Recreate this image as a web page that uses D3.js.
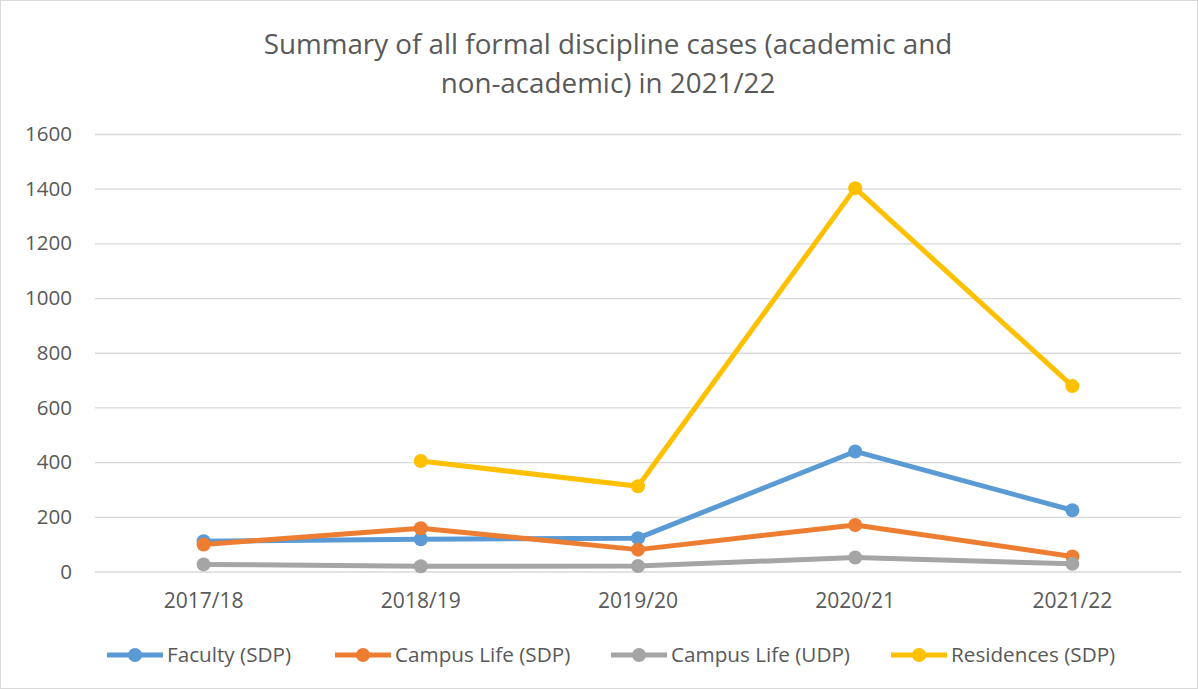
<!DOCTYPE html>
<html><head><meta charset="utf-8">
<script src="https://cdn.jsdelivr.net/npm/d3@7"></script>
<style>body{margin:0;background:#fff}</style>
</head><body>
<svg id="c" width="1198" height="689"></svg>
<script>
const titleLines = ["Summary of all formal discipline cases (academic and", "non-academic) in 2021/22"];
const categories = ["2017/18", "2018/19", "2019/20", "2020/21", "2021/22"];
const seriesNames = ["Faculty (SDP)", "Campus Life (SDP)", "Campus Life (UDP)", "Residences (SDP)"];
const facultySDP = [111, 118, 122, 439, 224];
const campusLifeSDP = [99, 158, 80, 170, 55];
const campusLifeUDP = [26, 19, 20, 51, 28];
const residencesSDP = [null, 404, 312, 1402, 678];
const yTicks = [0, 200, 400, 600, 800, 1000, 1200, 1400, 1600];
const colors = ["#5B9BD5", "#ED7D31", "#A5A5A5", "#FFC000"];

const series = [facultySDP, campusLifeSDP, campusLifeUDP, residencesSDP].map((v, i) => ({name: seriesNames[i], values: v, color: colors[i]}));

const svg = d3.select("#c");
const font = "'Open Sans', sans-serif";
const textColor = "#595959";

// fit font size so that a sample text gets a target width
function fitSize(sample, target, base) {
  const t = svg.append("text").attr("font-family", font).attr("font-size", base).text(sample);
  const w = t.node().getComputedTextLength();
  t.remove();
  return base * target / w;
}
const titleSize = fitSize(titleLines[0], 689, 24);
const tickSize = fitSize("1600", 47, 18);
const xLabSize = fitSize("2017/18", 80, 18);
const legSize = fitSize("Campus Life (UDP)", 179, 18);

svg.append("rect").attr("x", 0.5).attr("y", 0.5).attr("width", 1197).attr("height", 688)
  .attr("fill", "#fff").attr("stroke", "#d9d9d9");

const x = d3.scaleBand().domain(categories).range([95, 1181]);
const y = d3.scaleLinear().domain([0, 1600]).range([571.5, 134]);

// title
svg.append("g").selectAll("text").data(titleLines).join("text")
  .attr("x", 608).attr("y", (d, i) => 54 + i * 39)
  .attr("text-anchor", "middle").attr("font-family", font).attr("font-size", titleSize)
  .attr("fill", textColor).text(d => d);

// grid + y axis
const yAxis = d3.axisLeft(y).tickValues(yTicks).tickFormat(d3.format("d")).tickSize(-(1181 - 95)).tickPadding(23);
const gy = svg.append("g").attr("transform", "translate(95,0)").call(yAxis);
gy.select(".domain").remove();
gy.selectAll(".tick line").attr("stroke", "#d9d9d9").attr("stroke-width", 1.3);
gy.selectAll(".tick text").attr("font-family", font).attr("font-size", tickSize).attr("fill", textColor);

const xAxis = d3.axisBottom(x).tickSize(0).tickPadding(22);
const gx = svg.append("g").attr("transform", `translate(0,${y(0)})`).call(xAxis);
gx.select(".domain").remove();
gx.selectAll(".tick text").attr("font-family", font).attr("font-size", xLabSize).attr("fill", textColor);

const cx = d => x(d) + x.bandwidth() / 2;
const line = d3.line().defined(d => d.v != null).x(d => cx(d.c)).y(d => y(d.v));

const g = svg.append("g");
series.forEach(s => {
  const pts = s.values.map((v, i) => ({c: categories[i], v}));
  g.append("path").attr("d", line(pts)).attr("fill", "none").attr("stroke", s.color)
    .attr("stroke-width", 5).attr("stroke-linejoin", "round");
  g.selectAll(null).data(pts.filter(p => p.v != null)).join("circle")
    .attr("cx", p => cx(p.c)).attr("cy", p => y(p.v)).attr("r", 7).attr("fill", s.color);
});

// legend
const legendX = [107, 335, 611, 891];
const lg = svg.append("g").attr("transform", "translate(0,655)");
series.forEach((s, i) => {
  const it = lg.append("g").attr("transform", `translate(${legendX[i]},0)`);
  it.append("line").attr("x1", 0).attr("x2", 56).attr("stroke", s.color).attr("stroke-width", 5);
  it.append("circle").attr("cx", 28).attr("r", 7).attr("fill", s.color);
  it.append("text").attr("x", 60).attr("y", 0).attr("dy", "0.35em").attr("font-family", font).attr("font-size", legSize)
    .attr("fill", textColor).text(s.name);
});
</script>
</body></html>
